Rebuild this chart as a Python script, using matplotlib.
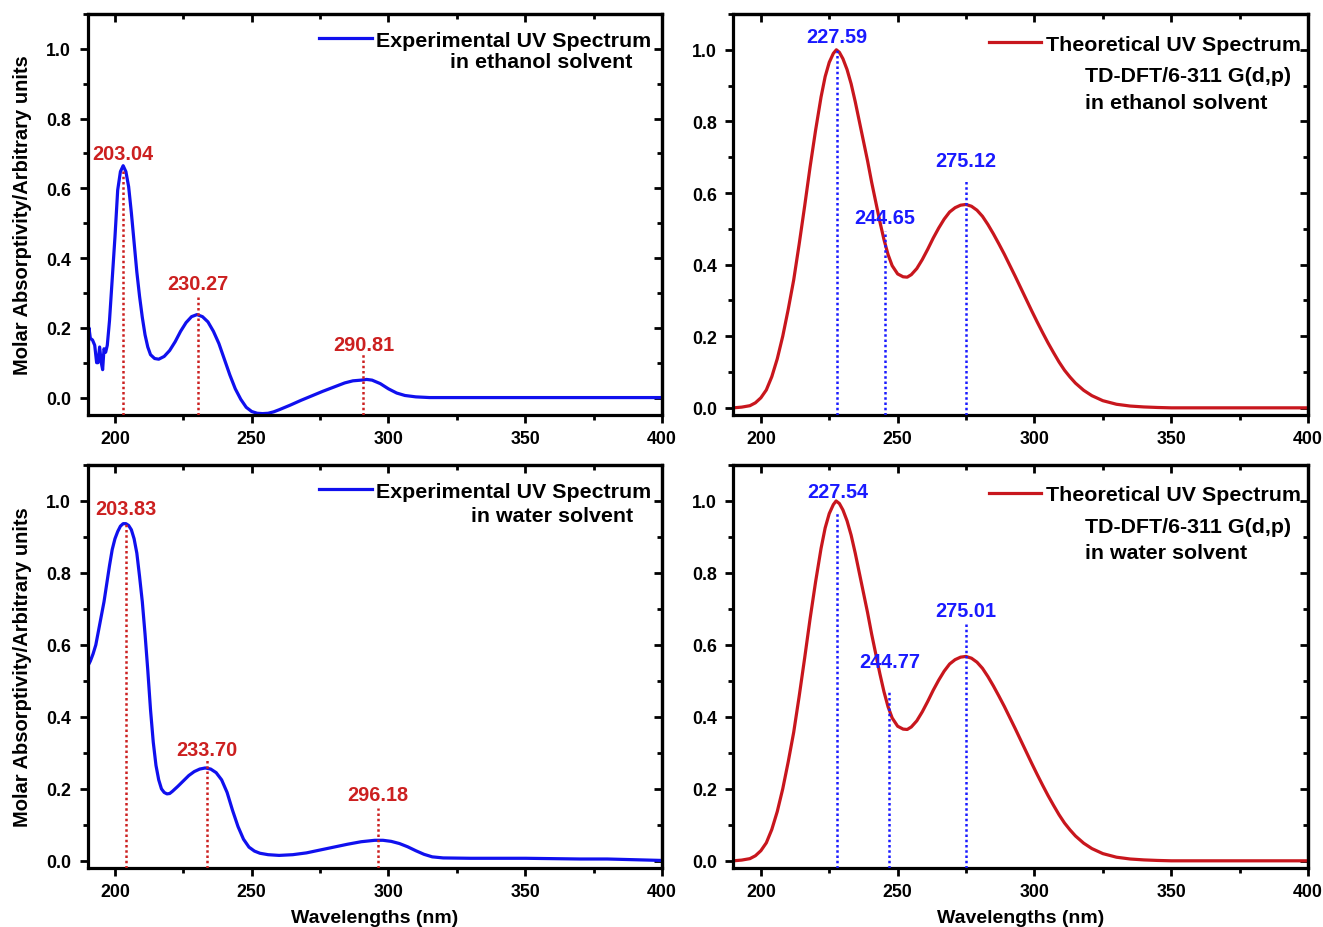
import matplotlib
matplotlib.use("Agg")
import matplotlib.pyplot as plt
from matplotlib.ticker import MultipleLocator

plt.rcParams['font.family'] = ['Liberation Sans', 'DejaVu Sans']
plt.rcParams['font.weight'] = 'bold'

# ---------------- data ----------------
# Experimental UV spectrum, ethanol
exp_eth_wl = [190.0, 190.5, 191.0, 191.8, 192.6, 193.3, 193.8, 194.4, 195.0, 195.5, 196.0, 196.6,
              197.2, 198.0, 199.0, 200.0, 201.0, 202.0, 203.0, 204.0, 205.0, 206.0, 207.0, 208.0,
              209.0, 210.0, 211.0, 212.0, 213.0, 214.5, 216.0, 218.0, 220.0, 222.0, 224.0, 226.0,
              228.0, 230.0, 232.0, 234.0, 236.0, 238.0, 240.0, 242.0, 244.0, 246.0, 248.0, 250.0,
              252.0, 254.0, 256.0, 258.0, 260.0, 264.0, 268.0, 272.0, 276.0, 280.0, 284.0, 287.0,
              290.0, 292.0, 294.0, 297.0, 300.0, 303.0, 306.0, 310.0, 315.0, 330.0, 350.0, 370.0,
              385.0, 400.0]
exp_eth_abs = [0.09, 0.20, 0.17, 0.165, 0.15, 0.10, 0.10, 0.145, 0.10, 0.08, 0.14, 0.13,
               0.15, 0.22, 0.34, 0.46, 0.595, 0.648, 0.665, 0.648, 0.605, 0.53, 0.445, 0.36,
               0.29, 0.23, 0.18, 0.145, 0.123, 0.112, 0.11, 0.118, 0.135, 0.16, 0.19, 0.215,
               0.232, 0.238, 0.232, 0.217, 0.19, 0.155, 0.11, 0.065, 0.025, -0.005, -0.028, -0.040,
               -0.045, -0.046, -0.045, -0.041, -0.035, -0.022, -0.008, 0.005, 0.018, 0.030, 0.042, 0.048,
               0.050, 0.052, 0.050, 0.040, 0.025, 0.013, 0.006, 0.002, 0.0, 0.0, 0.0, 0.0,
               0.0, 0.0]

# Experimental UV spectrum, water
exp_wat_wl = [190.0, 191.0, 192.0, 193.0, 194.0, 195.0, 196.0, 197.0, 198.0, 199.0, 200.0, 201.0,
              202.0, 203.0, 204.0, 205.0, 206.0, 207.0, 208.0, 209.0, 210.0, 211.0, 212.0, 213.0,
              214.0, 215.0, 216.0, 217.0, 218.0, 219.0, 220.0, 221.0, 223.0, 225.0, 227.0, 229.0,
              231.0, 233.0, 235.0, 237.0, 239.0, 241.0, 243.0, 245.0, 247.0, 249.0, 251.0, 253.0,
              256.0, 260.0, 265.0, 270.0, 275.0, 280.0, 285.0, 290.0, 295.0, 298.0, 301.0, 304.0,
              307.0, 310.0, 313.0, 316.0, 320.0, 330.0, 340.0, 350.0, 360.0, 370.0, 380.0, 390.0,
              400.0]
exp_wat_abs = [0.54, 0.555, 0.575, 0.60, 0.64, 0.68, 0.72, 0.77, 0.82, 0.865, 0.895, 0.915,
               0.93, 0.937, 0.937, 0.932, 0.92, 0.895, 0.855, 0.79, 0.72, 0.63, 0.53, 0.42,
               0.33, 0.265, 0.225, 0.20, 0.19, 0.186, 0.187, 0.193, 0.207, 0.222, 0.237, 0.248,
               0.255, 0.258, 0.255, 0.245, 0.225, 0.19, 0.14, 0.095, 0.06, 0.038, 0.027, 0.021,
               0.017, 0.015, 0.017, 0.022, 0.030, 0.038, 0.046, 0.053, 0.057, 0.057, 0.054, 0.048,
               0.039, 0.028, 0.018, 0.011, 0.008, 0.007, 0.007, 0.007, 0.006, 0.005, 0.005, 0.003,
               0.001]

# Theoretical UV spectrum (TD-DFT), ethanol
th_eth_wl = [190.0, 193.0, 196.0, 198.0, 200.0, 202.0, 204.0, 206.0, 208.0, 210.0, 212.0, 214.0,
             216.0, 218.0, 220.0, 222.0, 223.5, 225.0, 226.5, 227.6, 228.7, 230.0, 231.5, 233.0,
             234.5, 236.0, 237.5, 239.0, 240.5, 242.0, 243.5, 245.0, 246.5, 248.0, 250.0, 252.0,
             253.5, 255.0, 257.0, 259.0, 261.0, 263.0, 265.0, 267.0, 269.0, 271.0, 273.0, 275.0,
             277.0, 279.0, 281.0, 283.0, 285.0, 287.0, 289.0, 291.0, 293.0, 295.0, 297.0, 299.0,
             301.0, 303.0, 305.0, 307.0, 309.0, 311.0, 313.0, 315.0, 318.0, 321.0, 325.0, 330.0,
             335.0, 340.0, 345.0, 350.0, 375.0, 400.0]
th_eth_abs = [0.0, 0.002, 0.006, 0.014, 0.028, 0.050, 0.087, 0.137, 0.20, 0.275, 0.357, 0.457,
              0.563, 0.673, 0.775, 0.868, 0.925, 0.965, 0.99, 1.0, 0.993, 0.975, 0.945, 0.905,
              0.855, 0.80, 0.745, 0.69, 0.63, 0.575, 0.52, 0.47, 0.428, 0.397, 0.374, 0.366,
              0.365, 0.372, 0.389, 0.414, 0.443, 0.474, 0.502, 0.527, 0.547, 0.559, 0.566, 0.568,
              0.563, 0.552, 0.535, 0.512, 0.486, 0.458, 0.429, 0.398, 0.367, 0.335, 0.303, 0.271,
              0.240, 0.210, 0.181, 0.154, 0.128, 0.105, 0.086, 0.069, 0.049, 0.034, 0.020, 0.010,
              0.005, 0.0025, 0.001, 0.0, 0.0, 0.0]

# Theoretical UV spectrum (TD-DFT), water
th_wat_wl = [190.0, 193.0, 196.0, 198.0, 200.0, 202.0, 204.0, 206.0, 208.0, 210.0, 212.0, 214.0,
             216.0, 218.0, 220.0, 222.0, 223.5, 225.0, 226.5, 227.5, 228.7, 230.0, 231.5, 233.0,
             234.5, 236.0, 237.5, 239.0, 240.5, 242.0, 243.5, 245.0, 246.5, 248.0, 250.0, 252.0,
             253.5, 255.0, 257.0, 259.0, 261.0, 263.0, 265.0, 267.0, 269.0, 271.0, 273.0, 275.0,
             277.0, 279.0, 281.0, 283.0, 285.0, 287.0, 289.0, 291.0, 293.0, 295.0, 297.0, 299.0,
             301.0, 303.0, 305.0, 307.0, 309.0, 311.0, 313.0, 315.0, 318.0, 321.0, 325.0, 330.0,
             335.0, 340.0, 345.0, 350.0, 375.0, 400.0]
th_wat_abs = [0.0, 0.002, 0.006, 0.014, 0.028, 0.050, 0.087, 0.137, 0.20, 0.275, 0.357, 0.457,
              0.563, 0.673, 0.775, 0.868, 0.925, 0.965, 0.99, 1.0, 0.993, 0.975, 0.945, 0.905,
              0.855, 0.80, 0.745, 0.69, 0.63, 0.575, 0.52, 0.47, 0.428, 0.397, 0.374, 0.366,
              0.365, 0.372, 0.389, 0.414, 0.443, 0.474, 0.502, 0.527, 0.547, 0.559, 0.566, 0.568,
              0.563, 0.552, 0.535, 0.512, 0.486, 0.458, 0.429, 0.398, 0.367, 0.335, 0.303, 0.271,
              0.240, 0.210, 0.181, 0.154, 0.128, 0.105, 0.086, 0.069, 0.049, 0.034, 0.020, 0.010,
              0.005, 0.0025, 0.001, 0.0, 0.0, 0.0]

# Peak markers: position of dotted line, top of line, label text, label height
exp_eth_peak_x = [203.04, 230.27, 290.81]
exp_eth_peak_top = [0.65, 0.295, 0.124]
exp_eth_labels = ["203.04", "230.27", "290.81"]
exp_eth_label_y = [0.70, 0.328, 0.153]

exp_wat_peak_x = [204.0, 233.70, 296.18]
exp_wat_peak_top = [0.935, 0.28, 0.146]
exp_wat_labels = ["203.83", "233.70", "296.18"]
exp_wat_label_y = [0.978, 0.31, 0.185]

th_eth_peak_x = [227.7, 245.2, 275.0]
th_eth_peak_top = [1.0, 0.494, 0.638]
th_eth_labels = ["227.59", "244.65", "275.12"]
th_eth_label_y = [1.036, 0.533, 0.69]

th_wat_peak_x = [228.0, 247.0, 275.0]
th_wat_peak_top = [0.966, 0.474, 0.664]
th_wat_labels = ["227.54", "244.77", "275.01"]
th_wat_label_y = [1.026, 0.555, 0.697]

x_range = (190, 400)

BLUE = '#1010ee'
RED = '#c8161d'
LBLUE = '#1a1aff'
LRED = '#cc2020'

fig = plt.figure(figsize=(13.23, 9.28), dpi=100)

W = 1323.0
H = 928.0
def rect(l, r, t, b):
    return [l / W, 1 - b / H, (r - l) / W, (b - t) / H]

ax_tl = fig.add_axes(rect(87.6, 662, 15, 416))
ax_tr = fig.add_axes(rect(733.5, 1308, 15, 416))
ax_bl = fig.add_axes(rect(87.6, 662, 466, 869))
ax_br = fig.add_axes(rect(733.5, 1308, 466, 869))

SPW = 2.3
TICK_FS = 12.8

def style(ax, ylim):
    ax.set_xlim(*x_range)
    ax.set_ylim(*ylim)
    for s in ax.spines.values():
        s.set_linewidth(SPW)
    ax.xaxis.set_major_locator(MultipleLocator(50))
    ax.xaxis.set_minor_locator(MultipleLocator(25))
    ax.yaxis.set_major_locator(MultipleLocator(0.2))
    ax.yaxis.set_minor_locator(MultipleLocator(0.1))
    ax.tick_params(which='major', direction='out', length=6, width=2.0,
                   labelsize=TICK_FS)
    ax.tick_params(axis='x', which='major', pad=5)
    ax.tick_params(axis='y', which='major', pad=6)
    ax.tick_params(which='minor', direction='out', length=3.5, width=2.0)
    ax.set_yticks([0.0, 0.2, 0.4, 0.6, 0.8, 1.0])
    ax.set_yticklabels(['0.0', '0.2', '0.4', '0.6', '0.8', '1.0'])
    for lab in ax.get_xticklabels() + ax.get_yticklabels():
        lab.set_fontweight('bold')
    # inward ticks on top and right
    sx = ax.secondary_xaxis('top')
    sx.xaxis.set_major_locator(MultipleLocator(50))
    sx.xaxis.set_minor_locator(MultipleLocator(25))
    sx.tick_params(which='major', direction='in', length=6, width=2.0, labeltop=False)
    sx.tick_params(which='minor', direction='in', length=3.5, width=2.0)
    sx.spines['top'].set_linewidth(SPW)
    sy = ax.secondary_yaxis('right')
    sy.yaxis.set_major_locator(MultipleLocator(0.2))
    sy.yaxis.set_minor_locator(MultipleLocator(0.1))
    sy.tick_params(which='major', direction='in', length=6, width=2.0, labelright=False)
    sy.tick_params(which='minor', direction='in', length=3.5, width=2.0)
    sy.spines['right'].set_linewidth(SPW)


def peaks(ax, xs, tops, labels, label_y, lcolor, tcolor, ymin):
    for x, t, lab, ly in zip(xs, tops, labels, label_y):
        ax.plot([x, x], [ymin, t], color=lcolor, lw=1.8,
                linestyle=(0, (1, 1.1)), dash_capstyle='butt', zorder=3)
        ax.text(x, ly, lab, color=tcolor, fontsize=14.3, fontweight='bold',
                ha='center', va='center', zorder=4)


LEG_FS = 15.4
LEG_KW = dict(loc='upper right', frameon=False, handlelength=2.45, handletextpad=0.19,
              borderaxespad=0, borderpad=0, prop={'size': LEG_FS, 'weight': 'bold'})
YLAB_FS = 14.5

# ---- top-left
ylim_tl = (-0.05, 1.1)
style(ax_tl, ylim_tl)
ax_tl.plot(exp_eth_wl, exp_eth_abs, color=BLUE, lw=2.3, label='Experimental UV Spectrum', zorder=2)
peaks(ax_tl, exp_eth_peak_x, exp_eth_peak_top, exp_eth_labels, exp_eth_label_y, LRED, LRED, ylim_tl[0])
ax_tl.legend(bbox_to_anchor=(0.981, 0.958), **LEG_KW)
ax_tl.text(0.949, 0.881, 'in ethanol solvent', transform=ax_tl.transAxes,
           ha='right', va='center', fontsize=LEG_FS, fontweight='bold')
ax_tl.set_ylabel('Molar Absorptivity/Arbitrary units', fontsize=YLAB_FS, fontweight='bold', labelpad=10)

# ---- top-right
ylim_tr = (-0.02, 1.1)
style(ax_tr, ylim_tr)
ax_tr.plot(th_eth_wl, th_eth_abs, color=RED, lw=2.3, label='Theoretical UV Spectrum', zorder=2)
peaks(ax_tr, th_eth_peak_x, th_eth_peak_top, th_eth_labels, th_eth_label_y, LBLUE, LBLUE, ylim_tr[0])
ax_tr.legend(bbox_to_anchor=(0.987, 0.948), **LEG_KW)
ax_tr.text(0.612, 0.846, 'TD-DFT/6-311 G(d,p)', transform=ax_tr.transAxes,
           ha='left', va='center', fontsize=LEG_FS, fontweight='bold')
ax_tr.text(0.612, 0.779, 'in ethanol solvent', transform=ax_tr.transAxes,
           ha='left', va='center', fontsize=LEG_FS, fontweight='bold')

# ---- bottom-left
ylim_bl = (-0.02, 1.1)
style(ax_bl, ylim_bl)
ax_bl.plot(exp_wat_wl, exp_wat_abs, color=BLUE, lw=2.3, label='Experimental UV Spectrum', zorder=2)
peaks(ax_bl, exp_wat_peak_x, exp_wat_peak_top, exp_wat_labels, exp_wat_label_y, LRED, LRED, ylim_bl[0])
ax_bl.legend(bbox_to_anchor=(0.981, 0.958), **LEG_KW)
ax_bl.text(0.949, 0.875, 'in water solvent', transform=ax_bl.transAxes,
           ha='right', va='center', fontsize=LEG_FS, fontweight='bold')
ax_bl.set_ylabel('Molar Absorptivity/Arbitrary units', fontsize=YLAB_FS, fontweight='bold', labelpad=10)
ax_bl.set_xlabel('Wavelengths (nm)', fontsize=14, fontweight='bold', labelpad=6)

# ---- bottom-right
ylim_br = (-0.02, 1.1)
style(ax_br, ylim_br)
ax_br.plot(th_wat_wl, th_wat_abs, color=RED, lw=2.3, label='Theoretical UV Spectrum', zorder=2)
peaks(ax_br, th_wat_peak_x, th_wat_peak_top, th_wat_labels, th_wat_label_y, LBLUE, LBLUE, ylim_br[0])
ax_br.legend(bbox_to_anchor=(0.987, 0.950), **LEG_KW)
ax_br.text(0.612, 0.848, 'TD-DFT/6-311 G(d,p)', transform=ax_br.transAxes,
           ha='left', va='center', fontsize=LEG_FS, fontweight='bold')
ax_br.text(0.612, 0.783, 'in water solvent', transform=ax_br.transAxes,
           ha='left', va='center', fontsize=LEG_FS, fontweight='bold')
ax_br.set_xlabel('Wavelengths (nm)', fontsize=14, fontweight='bold', labelpad=6)

fig.savefig('out.png', dpi=100)
